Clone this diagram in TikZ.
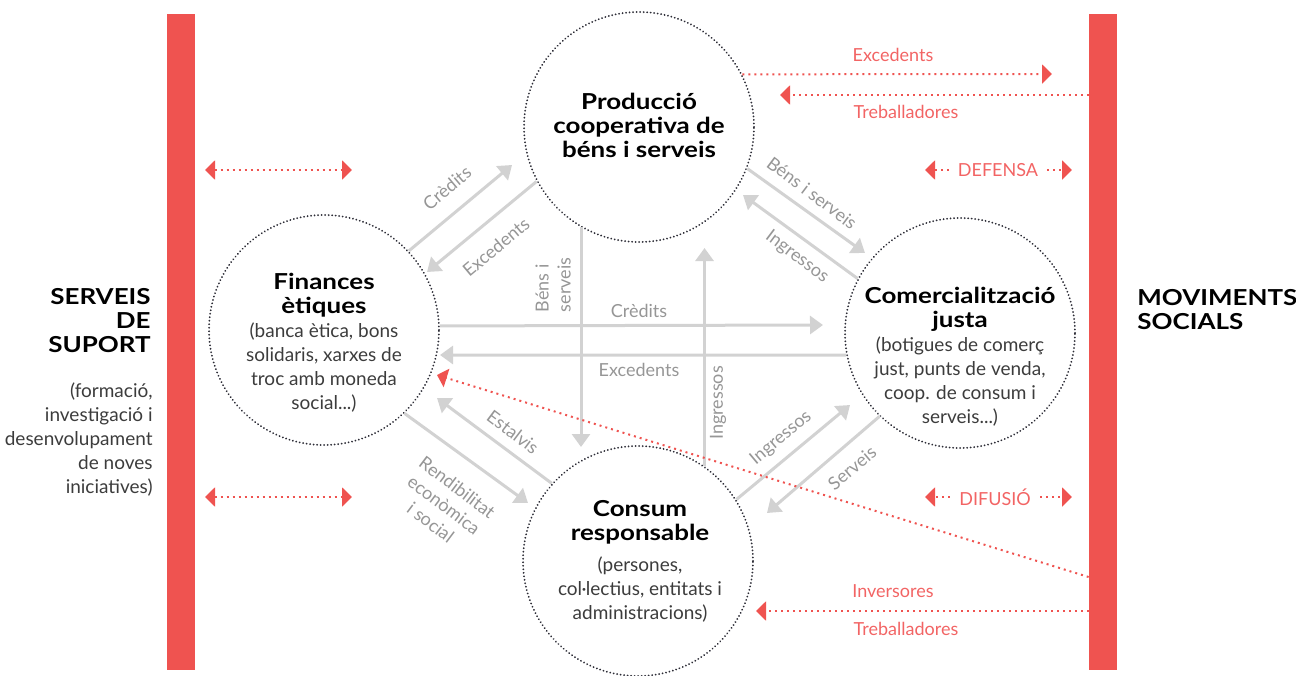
\documentclass[tikz,border=0pt]{standalone}
\usepackage{fontspec}
\setmainfont{Lato}
\newfontfamily\titlefont{Lato}[FakeStretch=1.18]
\usetikzlibrary{arrows.meta,calc}
\definecolor{red@ES}{RGB}{239, 83, 80}
\definecolor{redtxt@ES}{RGB}{242, 100, 100}
\definecolor{grey@ES}{RGB}{210, 210, 210}
\definecolor{greytxt@ES}{RGB}{150, 150, 150}
\definecolor{dark@ES}{RGB}{60, 60, 60}
\definecolor{dots@ES}{RGB}{45, 45, 55}

\begin{document}
\begin{tikzpicture}[x=0.5pt, y=-0.5pt, font=\fontsize{9.5}{12}\selectfont]
  \tikzstyle{bar}=[fill=red@ES, draw=none, minimum width=14pt, minimum height=328pt, inner sep=0pt]
  \tikzstyle{sphere}=[draw=dots@ES, circle, line width=1pt, dash pattern=on 0.01pt off 1.75pt,
                                line cap=round, minimum size=115pt, inner sep=0pt]
  \tikzstyle{flow} = [draw, grey@ES, line width=1.5pt, -{Triangle[length=6.5pt,width=9pt]}]
  \tikzstyle{link} = [draw, red@ES, line width=1pt, dash pattern=on 1pt off 2pt, -{Triangle[length=5pt,width=9.5pt]}]
  \tikzstyle{dlink} = [link, {Triangle[length=5pt,width=9.5pt]}-{Triangle[length=5pt,width=9.5pt]}]
  \tikzstyle{flowlbl}=[text=greytxt@ES, font=\fontsize{9}{11}\selectfont, inner sep=0pt]
  \tikzstyle{linklbl}=[text=redtxt@ES, font=\fontsize{9}{11}\selectfont, inner sep=0pt]
  \tikzstyle{title}=[text=black, font=\titlefont\fontsize{11}{12}\selectfont\bfseries, align=center, inner sep=0pt]
  \tikzstyle{desc}=[text=dark@ES, align=center, inner sep=0pt]

  \useasboundingbox (0,0) rectangle (1296,675);

  % side bars
  \node[bar] (serbar) at (181,342) {};
  \node[bar] (movbar) at (1103,342) {};

  % the four circles
  \node[sphere] (prod) at (639,127) {};
  \node[sphere] (fin)  at (324,330) {};
  \node[sphere] (com)  at (960,333) {};
  \node[sphere] (cons) at (638,561) {};

  % texts
  \node[title] (prodtit) at (639,125) {Producció\\cooperativa de\\béns i serveis};
  \node[title] (fintit) at (324,295) {Finances\\ètiques};
  \node[desc] (findesc) at (324,368) {(banca ètica, bons\\solidaris, xarxes de\\troc amb moneda\\social...)};
  \node[title] (comtit) at (960,309) {Comercialització\\justa};
  \node[desc] (comdesc) at (960,382) {(botigues de comerç\\just, punts de venda,\\coop. de consum i\\serveis...)};
  \node[title] (constit) at (640,522) {Consum\\responsable};
  \node[desc] (consdesc) at (640,590) {(persones,\\col·lectius, entitats i\\administracions)};
  \node[title, align=right, anchor=east] (sertit) at (151,321) {SERVEIS\\DE\\SUPORT};
  \node[desc, align=right, anchor=east] (serdesc) at (153,440) {(formació,\\investigació i\\desenvolupament\\de noves\\iniciatives)};
  \node[title, align=left, anchor=west] (movtit) at (1137,310) {MOVIMENTS\\SOCIALS};

  % arrow tips (free ends)
  \coordinate (tCredA) at (512,165);
  \coordinate (tExcA)  at (427,272);
  \coordinate (tBensA) at (865,253);
  \coordinate (tIngA)  at (743,195);
  \coordinate (tEst)   at (437,398);
  \coordinate (tRend)  at (528,503);
  \coordinate (tIngB)  at (850,405);
  \coordinate (tServ)  at (767,513);
  \coordinate (tCredB) at (823,325);
  \coordinate (tExcB)  at (440,355);
  \coordinate (tBensB) at (prod.240.6 |- 0,447);
  \coordinate (tIngC)  at (cons.55 |- 0,248);

  % grey flows between circles
  \foreach \source/ \dest in
    {
      fin.43.5/tCredA,
      prod.208/tExcA,
      prod.339.4/tBensA,
      com.152.5/tIngA,
      cons.138.2/tEst,
      fin.314.7/tRend,
      cons.32.2/tIngB,
      com.226.7/tServ,
      fin.2.5/tCredB,
      com.191/tExcB,
      prod.240.6/tBensB,
      cons.55/tIngC%
    }
    \path[flow] (\source) -- (\dest);

  % grey labels
  \foreach \pos/\ang/\name/\txt in
    {
      {(447,188)}/40/lCredA/Crèdits,
      {(496,247)}/40/lExcA/Excedents,
      {(812,193)}/-37/lBensA/Béns i serveis,
      {(797,257)}/-37/lIngA/Ingressos,
      {(513,432)}/-37/lEst/Estalvis,
      {(781,438)}/40/lIngB/Ingressos,
      {(852,468)}/40/lServ/Serveis,
      {(639,311)}/0/lCredB/Crèdits,
      {(639,370)}/0/lExcB/Excedents,
      {(718,403)}/90/lIngC/Ingressos%
    }
    \node[flowlbl, rotate=\ang] (\name) at \pos {\txt};
  \node[flowlbl, rotate=-37, align=center] (lRend) at (444,505) {Rendibilitat\\econòmica\\i social};
  \node[flowlbl, rotate=90, align=left] (lBensB) at (553,285) {Béns i\\serveis};

  % red links
  \coordinate (tExcR) at (1052,74);
  \coordinate (sTreA) at (movbar.west |- 0,95);
  \coordinate (tTreA) at (780,95);
  \coordinate (sDiag) at (movbar.west |- 0,577);
  \coordinate (tDiag) at (437,375);
  \coordinate (sInv)  at (movbar.west |- 0,611);
  \coordinate (tInv)  at (756,611);

  \path[link] (prod.27) -- (tExcR);
  \foreach \source/ \dest in {sTreA/tTreA, sDiag/tDiag, sInv/tInv}
    \path[link] (\source) -- (\dest);

  \node[linklbl] (lExcR) at (893,55) {Excedents};
  \node[linklbl] (lTreA) at (906,112) {Treballadores};
  \node[linklbl] (lInv)  at (893,591) {Inversores};
  \node[linklbl] (lTreB) at (906,629) {Treballadores};

  % double links on the left
  \coordinate (dA1) at (205,170);
  \coordinate (dA2) at (352,170);
  \coordinate (dB1) at (205,497);
  \coordinate (dB2) at (352,497);
  \foreach \source/ \dest in {dA1/dA2, dB1/dB2}
    \path[dlink] (\source) -- (\dest);

  % defensa / difusio
  \node[linklbl, inner xsep=4.5pt] (def) at (998,170) {DEFENSA};
  \node[linklbl, inner xsep=4.5pt] (dif) at (995,497) {DIFUSIÓ};
  \coordinate (tDefL) at (925,170);
  \coordinate (tDefR) at (1072,170);
  \coordinate (tDifL) at (925,497);
  \coordinate (tDifR) at (1072,497);
  \foreach \source/ \dest in {def.west/tDefL, def.east/tDefR, dif.west/tDifL, dif.east/tDifR}
    \path[link] (\source) -- (\dest);

\end{tikzpicture}
\end{document}
